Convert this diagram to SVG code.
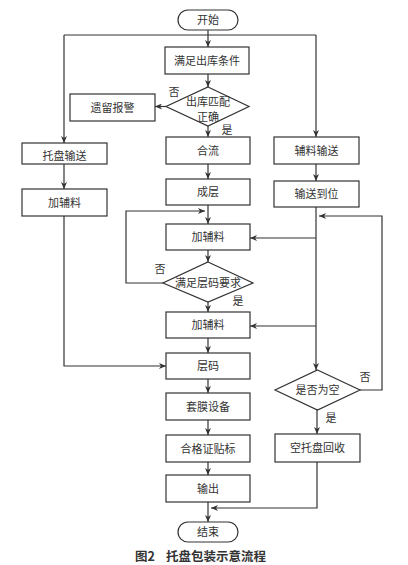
<svg xmlns="http://www.w3.org/2000/svg" width="408" height="565" viewBox="0 0 408 565">
<defs>
<marker id="ah" markerWidth="8" markerHeight="6" refX="7" refY="3" orient="auto" markerUnits="userSpaceOnUse">
<path d="M0,0 L7,3 L0,6 L2,3 Z" fill="#333"/>
</marker>
<style>
.b{fill:#fff;stroke:#333;stroke-width:1.2}
.t{font-family:"Liberation Serif","Noto Sans CJK SC",serif;font-size:11px;fill:#333;text-anchor:middle;dominant-baseline:central}
.c{fill:none;stroke:#333;stroke-width:1.2}
.a{marker-end:url(#ah)}
.cap{font-family:"Noto Sans CJK SC",sans-serif;font-size:12.5px;font-weight:bold;fill:#333;dominant-baseline:central}
</style>
</defs>
<rect width="408" height="565" fill="#fff"/>
<g id="connectors">
<path class="c a" d="M208,30 V47"/>
<path class="c" d="M64,35 H316"/>
<path class="c a" d="M64,35 V143"/>
<path class="c a" d="M316,35 V137"/>
<path class="c a" d="M208,74 V87"/>
<path class="c a" d="M166,106.5 H155"/>
<path class="c a" d="M208,126 V137"/>
<path class="c a" d="M208,164 V179"/>
<path class="c a" d="M208,205 V224"/>
<path class="c a" d="M64,164 V189"/>
<path class="c a" d="M316,164 V181"/>
<path class="c a" d="M208,250 V262"/>
<path class="c a" d="M163,283 H126 V211 H205"/>
<path class="c a" d="M208,302 V312"/>
<path class="c a" d="M316,238 H250"/>
<path class="c a" d="M316,326 H250"/>
<path class="c a" d="M316,207 V370"/>
<path class="c a" d="M360,390 H382 V216 H319"/>
<path class="c a" d="M64,216 V366 H166"/>
<path class="c a" d="M208,338 V353"/>
<path class="c a" d="M208,379 V393"/>
<path class="c a" d="M208,420 V435"/>
<path class="c a" d="M208,462 V475"/>
<path class="c a" d="M208,502 V522"/>
<path class="c a" d="M317,410 V434"/>
<path class="c a" d="M317,462 V508 H211"/>
<text class="t" x="174" y="92">否</text>
<text class="t" x="227" y="130">是</text>
<text class="t" x="160" y="269">否</text>
<text class="t" x="238" y="301">是</text>
<text class="t" x="365" y="377">否</text>
<text class="t" x="331" y="418">是</text>
</g>
<g id="start"><rect class="b" x="178" y="10" width="60" height="20" rx="10"/><text class="t" x="208" y="20">开始</text></g>
<g id="n1"><rect class="b" x="165" y="47" width="84" height="27"/><text class="t" x="207" y="60.5">满足出库条件</text></g>
<g id="d1"><polygon class="b" points="208,87 249,106.5 208,126 166,106.5"/><text class="t" x="208" y="101.5">出库匹配</text><text class="t" x="208" y="116.5">正确</text></g>
<g id="alarm"><rect class="b" x="70" y="94" width="85" height="27"/><text class="t" x="112.5" y="107.5">遗留报警</text></g>
<g id="l1"><rect class="b" x="22" y="143" width="85" height="21"/><text class="t" x="64.5" y="155.5">托盘输送</text></g>
<g id="l2"><rect class="b" x="22" y="189" width="85" height="27"/><text class="t" x="64.5" y="202.5">加辅料</text></g>
<g id="m1"><rect class="b" x="166" y="137" width="84" height="27"/><text class="t" x="208" y="150.5">合流</text></g>
<g id="m2"><rect class="b" x="166" y="179" width="84" height="26"/><text class="t" x="208" y="192">成层</text></g>
<g id="m3"><rect class="b" x="166" y="224" width="84" height="26"/><text class="t" x="208" y="237">加辅料</text></g>
<g id="d2"><polygon class="b" points="208,262 253,283 208,302 163,283"/><text class="t" x="208" y="283">满足层码要求</text></g>
<g id="m4"><rect class="b" x="166" y="312" width="84" height="26"/><text class="t" x="208" y="325">加辅料</text></g>
<g id="m5"><rect class="b" x="166" y="353" width="84" height="26"/><text class="t" x="208" y="366">层码</text></g>
<g id="m6"><rect class="b" x="166" y="393" width="84" height="27"/><text class="t" x="208" y="406.5">套膜设备</text></g>
<g id="m7"><rect class="b" x="166" y="435" width="84" height="27"/><text class="t" x="208" y="448.5">合格证贴标</text></g>
<g id="m8"><rect class="b" x="166" y="475" width="84" height="27"/><text class="t" x="208" y="488.5">输出</text></g>
<g id="end"><rect class="b" x="178" y="522" width="60" height="20" rx="10"/><text class="t" x="208" y="532">结束</text></g>
<g id="r1"><rect class="b" x="274" y="137" width="85" height="27"/><text class="t" x="316.5" y="150.5">辅料输送</text></g>
<g id="r2"><rect class="b" x="274" y="181" width="85" height="26"/><text class="t" x="316.5" y="194">输送到位</text></g>
<g id="d3"><polygon class="b" points="317.5,370 360,390 317.5,410 275,390"/><text class="t" x="317.5" y="390">是否为空</text></g>
<g id="r3"><rect class="b" x="275" y="434" width="85" height="28"/><text class="t" x="317.5" y="448">空托盘回收</text></g>
<text class="cap" x="135" y="555">图2</text>
<text class="cap" x="166" y="555">托盘包装示意流程</text>
</svg>
